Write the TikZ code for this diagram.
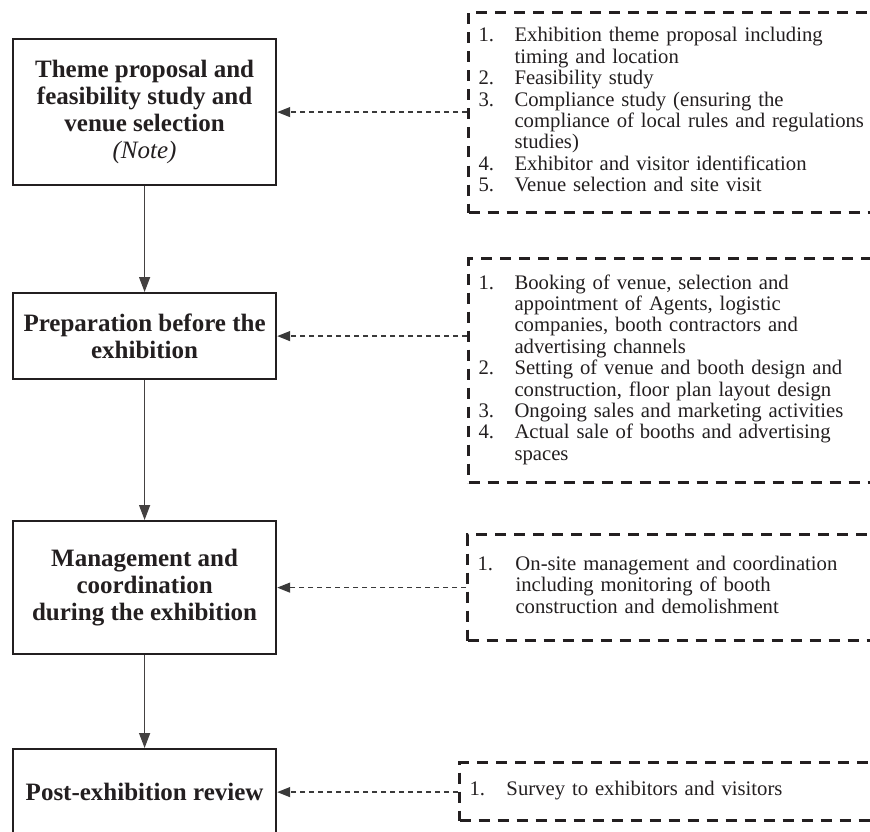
\documentclass[tikz,border=0pt]{standalone}
\usepackage{fontspec}
\setmainfont{Liberation Serif}
\usetikzlibrary{arrows.meta}
\definecolor{ink}{HTML}{231F20}
\definecolor{conn}{HTML}{3A3A3A}
\tikzset{
  mainbox/.style={draw=ink, line width=2.2pt, minimum width=263pt, align=center,
    text=ink, font=\bfseries\fontsize{25}{27.2}\selectfont, inner sep=0pt},
  dbox/.style={draw=ink, line width=3pt, dash pattern=on 11pt off 8pt,
    anchor=north west, text width=440pt, inner xsep=10pt, inner ysep=0pt,
    align=left, text=ink, font=\fontsize{20.7}{21.4}\selectfont},
  flow/.style={draw=ink!85, line width=1.4pt, -{Triangle[length=15pt,width=11pt]}},
  link/.style={draw=conn, line width=1.3pt, dash pattern=on 5pt off 4pt,
    -{Triangle[length=13pt,width=10pt]}}
}
\newcommand{\itemsA}{%
\begin{tabular}{@{}p{36pt}@{}l@{}}
1. & Exhibition theme proposal including\\
   & timing and location\\
2. & Feasibility study\\
3. & Compliance study (ensuring the\\
   & compliance of local rules and regulations\\
   & studies)\\
4. & Exhibitor and visitor identification\\
5. & Venue selection and site visit
\end{tabular}}
\newcommand{\itemsB}{%
\begin{tabular}{@{}p{36pt}@{}l@{}}
1. & Booking of venue, selection and\\
   & appointment of Agents, logistic\\
   & companies, booth contractors and\\
   & advertising channels\\
2. & Setting of venue and booth design and\\
   & construction, floor plan layout design\\
3. & Ongoing sales and marketing activities\\
4. & Actual sale of booths and advertising\\
   & spaces
\end{tabular}}
\newcommand{\itemsC}{%
\begin{tabular}{@{}p{38pt}@{}l@{}}
1. & On-site management and coordination\\
   & including monitoring of booth\\
   & construction and demolishment
\end{tabular}}
\newcommand{\itemsD}{%
\begin{tabular}{@{}p{37pt}@{}l@{}}
1. & Survey to exhibitors and visitors
\end{tabular}}
\begin{document}
\begin{tikzpicture}[x=1pt,y=-1pt]
\clip (0,0) rectangle (870,832);
\fill[white] (0,0) rectangle (870,832);
% main boxes
\node[mainbox, minimum height=146pt, anchor=north west] (T1) at (12,38)
  {Theme proposal and\\feasibility study and\\venue selection\\{\mdseries\itshape (Note)}};
\node[mainbox, minimum height=86pt, anchor=north west] (T2) at (12,292)
  {Preparation before the\\exhibition};
\node[mainbox, minimum height=133pt, anchor=north west] (T3) at (12,520)
  {Management and\\coordination\\during the exhibition};
\node[mainbox, minimum height=86pt, anchor=north west] (T4) at (12,748)
  {Post-exhibition review};
% dashed boxes
\node[dbox, minimum height=200pt] (A) at (467,11) {\noindent\itemsA};
\node[dbox, minimum height=224pt] (B) at (467,257) {\noindent\itemsB};
\node[dbox, minimum height=106pt] (C) at (466,533) {\noindent\itemsC};
\node[dbox, minimum height=58pt] (D) at (458,761) {\noindent\itemsD};
% flow arrows
\draw[flow] (T1) -- (T2);
\draw[flow] (T2) -- (T3);
\draw[flow] (T3) -- (T4);
% links
\draw[link] (T1.east -| A.west) -- (T1.east);
\draw[link] (T2.east -| B.west) -- (T2.east);
\draw[link] (T3.east -| C.west) -- (T3.east);
\draw[link] (T4.east -| D.west) -- (T4.east);
\end{tikzpicture}
\end{document}
